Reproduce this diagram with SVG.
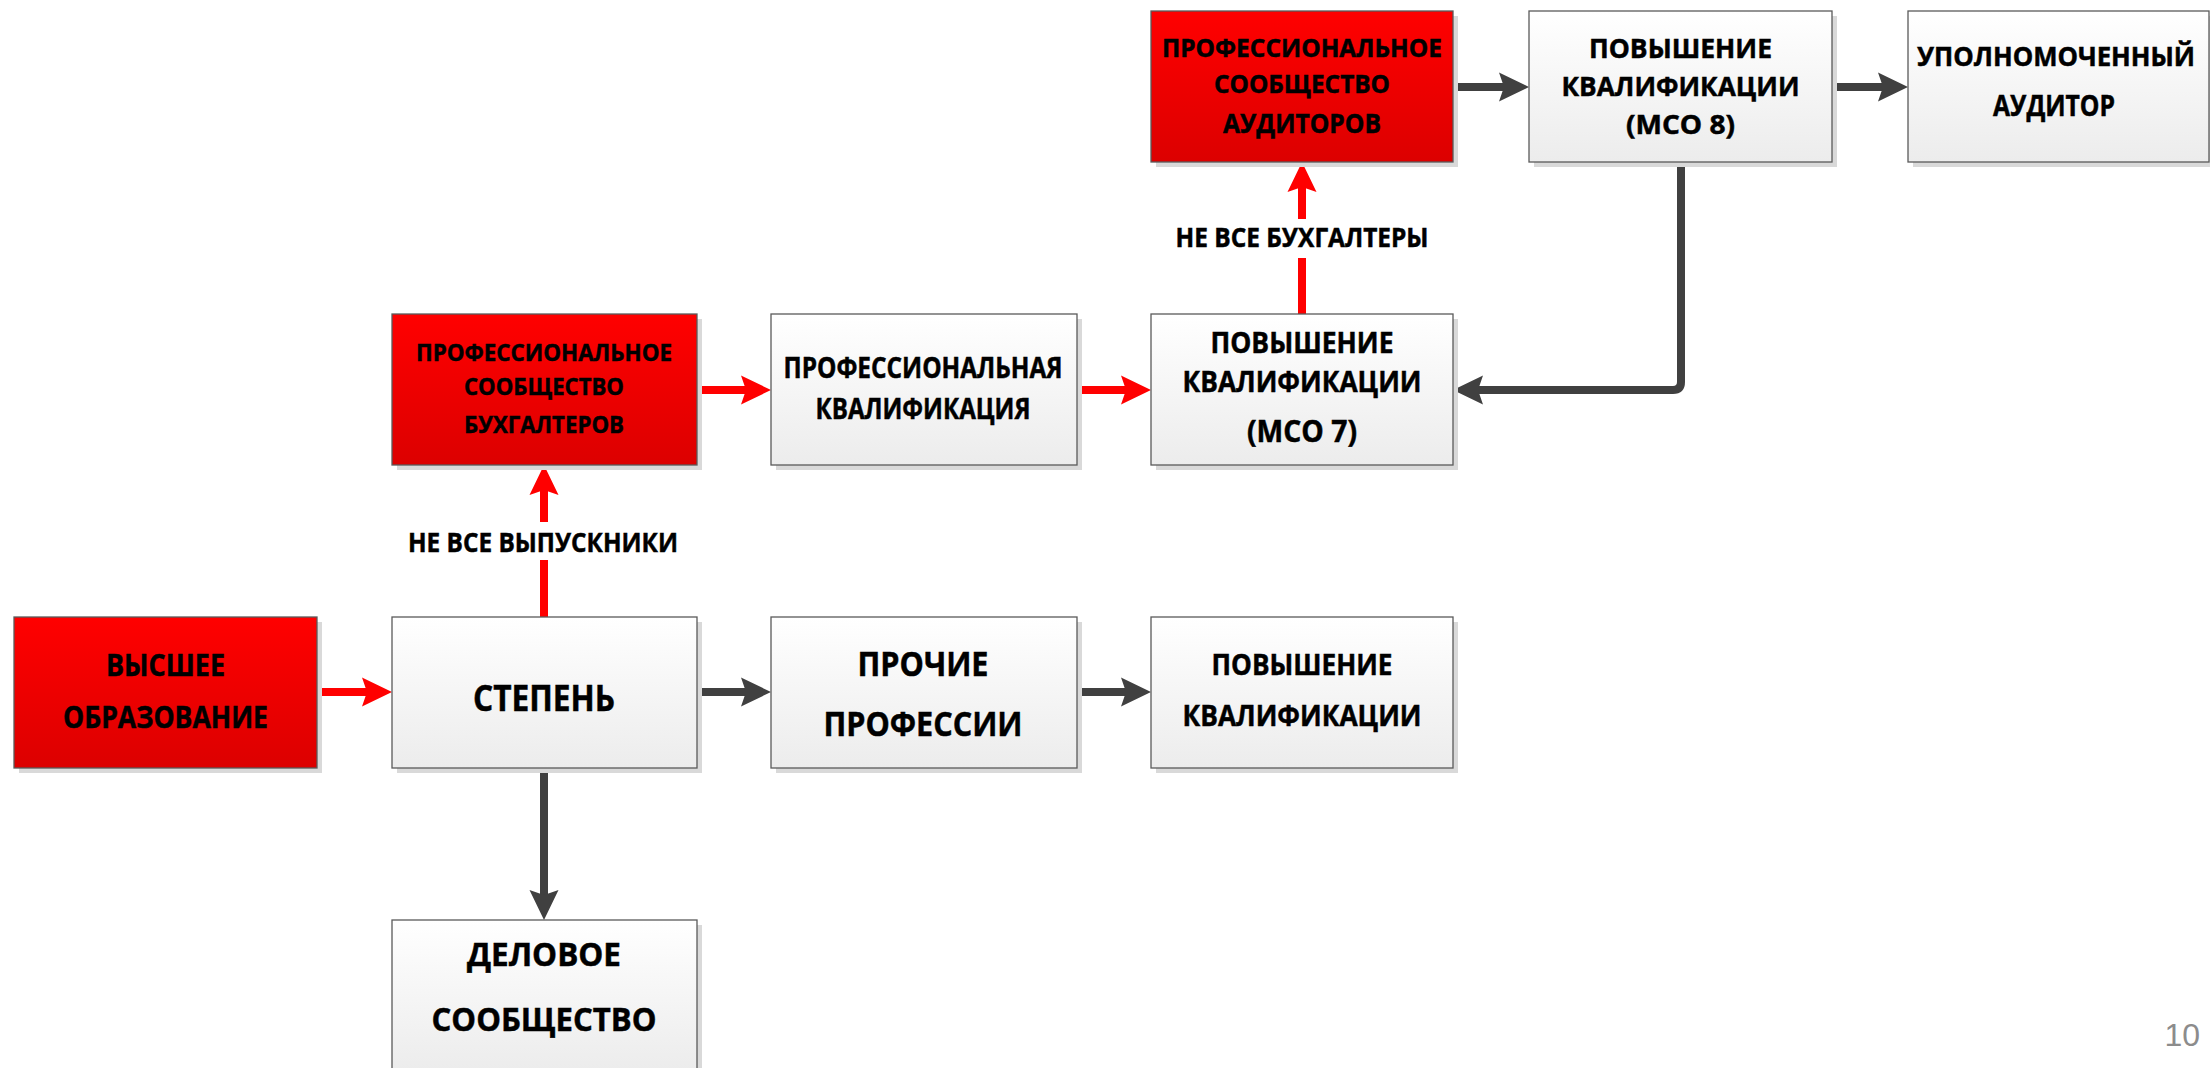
<svg xmlns="http://www.w3.org/2000/svg" width="2210" height="1068" viewBox="0 0 2210 1068">
<defs>
<linearGradient id="gRed" x1="0" y1="0" x2="0" y2="1"><stop offset="0" stop-color="#ff0000"/><stop offset="1" stop-color="#dc0000"/></linearGradient>
<linearGradient id="gGray" x1="0" y1="0" x2="0" y2="1"><stop offset="0" stop-color="#ffffff"/><stop offset="1" stop-color="#ececec"/></linearGradient>
<marker id="aRed" markerUnits="userSpaceOnUse" markerWidth="32" markerHeight="32" viewBox="0 -16 30 32" refX="8" refY="0" orient="auto"><path d="M0,-14.5 L30,0 L0,14.5 L5,0 Z" fill="#ff0000"/></marker>
<marker id="aDark" markerUnits="userSpaceOnUse" markerWidth="32" markerHeight="32" viewBox="0 -16 30 32" refX="8" refY="0" orient="auto"><path d="M0,-14.5 L30,0 L0,14.5 L5,0 Z" fill="#404040"/></marker>
</defs>
<style>
.sh{fill:#d9d9d9}
.bx{stroke:#5a5a5a;stroke-width:1.3}
.red{fill:url(#gRed)}
.gray{fill:url(#gGray)}
.t{font-family:"Open Sans","Noto Sans","DejaVu Sans",sans-serif;font-weight:bold;text-anchor:middle;fill:#000;stroke:#000;stroke-width:0.5}
.cr{fill:none;stroke:#ff0000;stroke-width:8;marker-end:url(#aRed)}
.cd{fill:none;stroke:#404040;stroke-width:8;marker-end:url(#aDark)}
.rc{stroke-linecap:round}
.lbl{fill:#ffffff}
.pg{font-family:"Liberation Sans",Arial,sans-serif;font-size:32px;fill:#8c8c8c;text-anchor:end}
</style>
<rect width="2210" height="1068" fill="#ffffff"/>

<g id="connectors">
<path class="cr" d="M317,692 H370"/>
<path class="cd" d="M697,692 H749"/>
<path class="cd rc" d="M1077,692 H1129"/>
<path class="cd rc" d="M544,768 V898"/>
<path class="cr" d="M544,617 V487"/>
<rect class="lbl" x="404" y="522" width="280" height="38"/>
<path class="cr" d="M697,390 H749"/>
<path class="cr" d="M1077,390 H1129"/>
<path class="cr" d="M1302,314 V184"/>
<rect class="lbl" x="1170" y="219" width="264" height="39"/>
<path class="cd" d="M1453,87 H1507"/>
<path class="cd" d="M1832,87 H1886"/>
<path class="cd" d="M1681,162 V382 Q1681,390 1673,390 H1475" stroke-linejoin="round"/>
<text class="t" x="543" y="552" font-size="27" textLength="270" lengthAdjust="spacingAndGlyphs">НЕ ВСЕ ВЫПУСКНИКИ</text>
<text class="t" x="1302" y="247" font-size="27" textLength="253" lengthAdjust="spacingAndGlyphs">НЕ ВСЕ БУХГАЛТЕРЫ</text>
</g>

<g id="n-vysshee">
<rect class="sh" x="19" y="622" width="303" height="151"/>
<rect class="bx red" x="14" y="617" width="303" height="151"/>
<text class="t" x="165.5" y="676" font-size="31" textLength="119" lengthAdjust="spacingAndGlyphs">ВЫСШЕЕ</text>
<text class="t" x="165.5" y="728" font-size="31" textLength="205" lengthAdjust="spacingAndGlyphs">ОБРАЗОВАНИЕ</text>
</g>

<g id="n-stepen">
<rect class="sh" x="397" y="622" width="305" height="151"/>
<rect class="bx gray" x="392" y="617" width="305" height="151"/>
<text class="t" x="544" y="711" font-size="35" textLength="142" lengthAdjust="spacingAndGlyphs">СТЕПЕНЬ</text>
</g>

<g id="n-prochie">
<rect class="sh" x="776" y="622" width="306" height="151"/>
<rect class="bx gray" x="771" y="617" width="306" height="151"/>
<text class="t" x="923" y="676" font-size="34" textLength="131" lengthAdjust="spacingAndGlyphs">ПРОЧИЕ</text>
<text class="t" x="923" y="736" font-size="34" textLength="199" lengthAdjust="spacingAndGlyphs">ПРОФЕССИИ</text>
</g>

<g id="n-povysh">
<rect class="sh" x="1156" y="622" width="302" height="151"/>
<rect class="bx gray" x="1151" y="617" width="302" height="151"/>
<text class="t" x="1302" y="675" font-size="29" textLength="181" lengthAdjust="spacingAndGlyphs">ПОВЫШЕНИЕ</text>
<text class="t" x="1302" y="726" font-size="29" textLength="239" lengthAdjust="spacingAndGlyphs">КВАЛИФИКАЦИИ</text>
</g>

<g id="n-delovoe">
<rect class="sh" x="397" y="925" width="305" height="151"/>
<rect class="bx gray" x="392" y="920" width="305" height="151"/>
<text class="t" x="544" y="966" font-size="33" textLength="154" lengthAdjust="spacingAndGlyphs">ДЕЛОВОЕ</text>
<text class="t" x="544" y="1031" font-size="33" textLength="225" lengthAdjust="spacingAndGlyphs">СООБЩЕСТВО</text>
</g>

<g id="n-buh">
<rect class="sh" x="397" y="319" width="305" height="151"/>
<rect class="bx red" x="392" y="314" width="305" height="151"/>
<text class="t" x="544" y="361" font-size="24" textLength="256" lengthAdjust="spacingAndGlyphs">ПРОФЕССИОНАЛЬНОЕ</text>
<text class="t" x="544" y="395" font-size="24" textLength="160" lengthAdjust="spacingAndGlyphs">СООБЩЕСТВО</text>
<text class="t" x="544" y="433" font-size="24" textLength="160" lengthAdjust="spacingAndGlyphs">БУХГАЛТЕРОВ</text>
</g>

<g id="n-profkval">
<rect class="sh" x="776" y="319" width="306" height="151"/>
<rect class="bx gray" x="771" y="314" width="306" height="151"/>
<text class="t" x="923" y="378" font-size="28" textLength="279" lengthAdjust="spacingAndGlyphs">ПРОФЕССИОНАЛЬНАЯ</text>
<text class="t" x="923" y="419" font-size="28" textLength="215" lengthAdjust="spacingAndGlyphs">КВАЛИФИКАЦИЯ</text>
</g>

<g id="n-mso7">
<rect class="sh" x="1156" y="319" width="302" height="151"/>
<rect class="bx gray" x="1151" y="314" width="302" height="151"/>
<text class="t" x="1302" y="353" font-size="29" textLength="183" lengthAdjust="spacingAndGlyphs">ПОВЫШЕНИЕ</text>
<text class="t" x="1302" y="392" font-size="29" textLength="239" lengthAdjust="spacingAndGlyphs">КВАЛИФИКАЦИИ</text>
<text class="t" x="1302" y="442" font-size="30" textLength="110" lengthAdjust="spacingAndGlyphs">(МСО 7)</text>
</g>

<g id="n-aud">
<rect class="sh" x="1156" y="16" width="302" height="151"/>
<rect class="bx red" x="1151" y="11" width="302" height="151"/>
<text class="t" x="1302" y="57" font-size="25" textLength="280" lengthAdjust="spacingAndGlyphs">ПРОФЕССИОНАЛЬНОЕ</text>
<text class="t" x="1302" y="93" font-size="25" textLength="176" lengthAdjust="spacingAndGlyphs">СООБЩЕСТВО</text>
<text class="t" x="1302" y="133" font-size="26" textLength="158" lengthAdjust="spacingAndGlyphs">АУДИТОРОВ</text>
</g>

<g id="n-mso8">
<rect class="sh" x="1534" y="16" width="303" height="151"/>
<rect class="bx gray" x="1529" y="11" width="303" height="151"/>
<text class="t" x="1680.5" y="58" font-size="27" textLength="183" lengthAdjust="spacingAndGlyphs">ПОВЫШЕНИЕ</text>
<text class="t" x="1680.5" y="96" font-size="27" textLength="238" lengthAdjust="spacingAndGlyphs">КВАЛИФИКАЦИИ</text>
<text class="t" x="1680.5" y="134" font-size="27" textLength="109" lengthAdjust="spacingAndGlyphs">(МСО 8)</text>
</g>

<g id="n-upoln">
<rect class="sh" x="1913" y="16" width="297" height="151"/>
<rect class="bx gray" x="1908" y="11" width="301" height="151"/>
<text class="t" x="2056" y="66" font-size="27" textLength="278" lengthAdjust="spacingAndGlyphs">УПОЛНОМОЧЕННЫЙ</text>
<text class="t" x="2054" y="116" font-size="28" textLength="122" lengthAdjust="spacingAndGlyphs">АУДИТОР</text>
</g>

<text class="pg" x="2200" y="1046">10</text>
</svg>
